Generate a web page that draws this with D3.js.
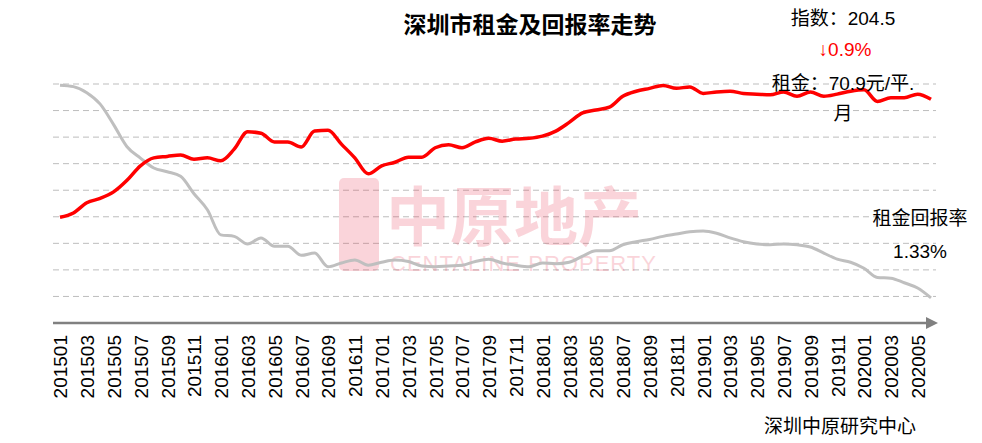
<!DOCTYPE html>
<html><head><meta charset="utf-8">
<script src="https://cdn.jsdelivr.net/npm/d3@7/dist/d3.min.js"></script>
<style>body{margin:0;background:#fff}svg{display:block}text{font-family:"Liberation Sans","Noto Sans CJK SC",sans-serif}</style>
</head><body><svg id="c" width="982" height="443"></svg>
<script>
const months=[];for(let y=2015;y<=2020;y++)for(let m=1;m<=12;m++){if(y===2020&&m>6)break;months.push(""+y+(m<10?"0":"")+m);}
const rent=[54.6,55.2,56.6,57.2,58.1,59.7,61.7,62.8,63.0,63.2,62.6,62.8,62.4,64.0,66.4,66.2,65.0,65.0,64.3,66.5,66.6,64.7,62.8,60.6,61.7,62.2,62.9,62.9,64.2,64.6,64.2,65.0,65.5,65.1,65.4,65.5,65.8,66.5,67.7,69.0,69.4,69.8,71.3,72.0,72.4,72.8,72.4,72.6,71.7,71.9,72.0,71.7,71.6,71.5,71.9,71.3,71.9,71.3,71.6,72.0,72.2,70.6,71.1,71.1,71.6,70.9];
const yieldR=[4.13,4.11,4.03,3.88,3.61,3.32,3.17,3.04,2.99,2.93,2.70,2.49,2.16,2.14,2.04,2.12,2.01,2.01,1.89,1.92,1.74,1.79,1.83,1.76,1.80,1.83,1.81,1.75,1.74,1.75,1.76,1.81,1.84,1.79,1.76,1.74,1.79,1.78,1.80,1.88,1.95,1.95,2.03,2.07,2.10,2.14,2.17,2.20,2.21,2.18,2.12,2.07,2.04,2.03,2.04,2.03,2.00,1.92,1.84,1.80,1.72,1.60,1.59,1.53,1.46,1.33];
const tickLabels=months.filter((d,i)=>i%2===0);
const svg=d3.select("#c");
const x=d3.scalePoint().domain(months).range([60,931]);
const yR=d3.scaleLinear().domain([40,73.0]).range([323,84]);
const yY=d3.scaleLinear().domain([1.0,4.145]).range([323,84]);
const grid=d3.range(1,10).map(i=>40+i*(33/9));
svg.append("g").selectAll("line").data(grid).join("line").attr("x1",53).attr("x2",936)
 .attr("y1",d=>yR(d)).attr("y2",d=>yR(d)).attr("stroke","#bdbdbd").attr("stroke-dasharray","6,4").attr("stroke-width",1);
// watermark
const wm=svg.append("g").attr("opacity",0.2).attr("fill","#e8304a");
wm.append("rect").attr("x",339).attr("y",178).attr("width",40).attr("height",93).attr("rx",5);
wm.append("text").attr("x",386).attr("y",240).attr("font-size",64).attr("font-weight","bold").text("中原地产");
wm.append("text").attr("x",390).attr("y",271).attr("font-size",22).attr("textLength",266).text("CENTALINE PROPERTY");
// axis
svg.append("line").attr("x1",53).attr("x2",928).attr("y1",323).attr("y2",323).attr("stroke","#808080").attr("stroke-width",2.5);
svg.append("path").attr("d","M926,317L938,323L926,329Z").attr("fill","#808080");
const ax=svg.append("g").attr("transform","translate(0,323)").call(d3.axisBottom(x).tickValues(tickLabels).tickSize(0).tickPadding(0));
ax.select(".domain").remove();
ax.selectAll("text").attr("transform","rotate(-90)").attr("text-anchor","end").attr("dx","-12").attr("dy","0.36em").attr("x",0).attr("y",0)
 .attr("font-size",19).attr("fill","#000").attr("font-family","Liberation Sans");
const ln=d3.line().x((d,i)=>x(months[i])).curve(d3.curveMonotoneX);
svg.append("path").datum(yieldR).attr("d",ln.y(d=>yY(d))).attr("fill","none").attr("stroke","#bfbfbf").attr("stroke-width",3);
svg.append("path").datum(rent).attr("d",ln.y(d=>yR(d))).attr("fill","none").attr("stroke","#ff0000").attr("stroke-width",3.5);
function t(xx,yy,s,txt,o={}){const e=svg.append("text").attr("x",xx).attr("y",yy).attr("font-size",s).text(txt).attr("fill",o.fill||"#000");if(o.bold)e.attr("font-weight","bold");if(o.anchor)e.attr("text-anchor",o.anchor);return e;}
t(530,33,23,"深圳市租金及回报率走势",{bold:1,anchor:"middle"});
t(843,25,19,"指数：204.5",{anchor:"middle"});
t(845,56,19,"↓0.9%",{anchor:"middle",fill:"#ff0000"});
t(843,90,19,"租金：70.9元/平.",{anchor:"middle"});
t(843,120,19,"月",{anchor:"middle"});
t(920,225,19,"租金回报率",{anchor:"middle"});
t(920,258,19,"1.33%",{anchor:"middle"});
t(840,433,19,"深圳中原研究中心",{anchor:"middle"});
</script></body></html>
